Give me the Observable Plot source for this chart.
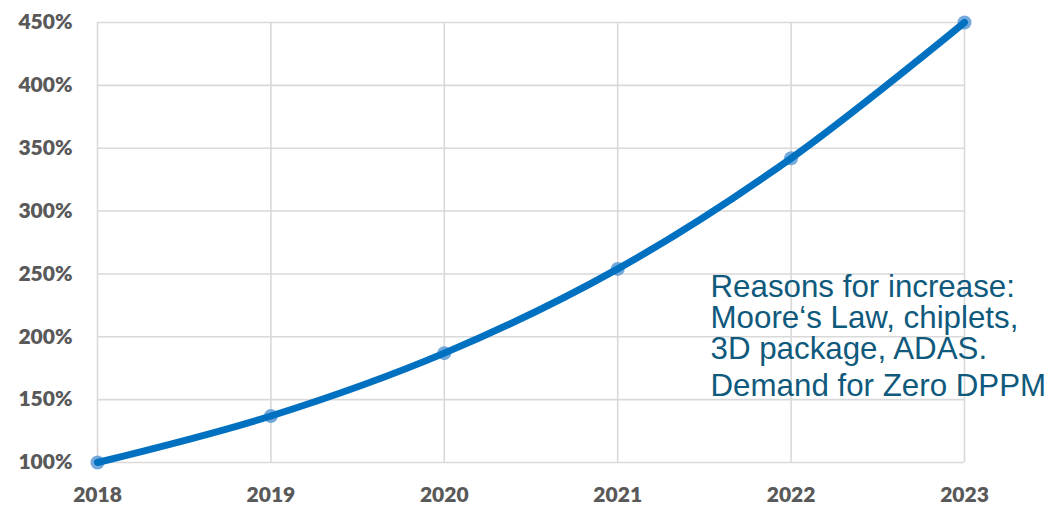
<!DOCTYPE html>
<html>
<head>
<meta charset="utf-8">
<script src="https://cdn.jsdelivr.net/npm/d3@7"></script>
<script src="https://cdn.jsdelivr.net/npm/@observablehq/plot@0.6"></script>
<style>
  html, body { margin: 0; padding: 0; background: #ffffff; }
  #chart svg { display: block; }
</style>
</head>
<body>
<div id="chart"></div>
<script>
const years = [2018, 2019, 2020, 2021, 2022, 2023];
const values = [100, 137, 187, 254, 342, 450];
const yTicks = [100, 150, 200, 250, 300, 350, 400, 450];
const noteLines = ["Reasons for increase:", "Moore‘s Law, chiplets,", "3D package, ADAS."];
const noteLast = ["Demand for Zero DPPM"];

const data = years.map((year, i) => ({year, value: values[i]}));

const chart = Plot.plot({
  width: 1053,
  height: 505,
  marginLeft: 97,
  marginRight: 89,
  marginTop: 22,
  marginBottom: 43,
  style: {background: "#ffffff"},
  x: {domain: [2018, 2023], ticks: years, tickFormat: d => String(d)},
  y: {domain: [100, 450], ticks: yTicks},
  marks: [
    Plot.gridY(yTicks, {stroke: "#d9d9d9", strokeOpacity: 1, strokeWidth: 1.6}),
    Plot.gridX(years, {stroke: "#d9d9d9", strokeOpacity: 1, strokeWidth: 1.6}),
    Plot.axisY(yTicks, {
      tickSize: 0, tickPadding: 25, tickFormat: d => d + "%",
      fontSize: 21, fontWeight: 800, fontFamily: "Lato", fill: "#595959", label: null
    }),
    Plot.axisX(years, {
      tickSize: 0, tickPadding: 25, tickFormat: d => String(d),
      fontSize: 21, fontWeight: 800, fontFamily: "Lato", fill: "#595959", label: null
    }),
    Plot.dot(data, {x: "year", y: "value", r: 7, fill: "#5b9bd5", fillOpacity: 0.85, stroke: "none"}),
    Plot.line(data, {x: "year", y: "value", stroke: "#0070c0", strokeWidth: 7, curve: "catmull-rom", strokeLinecap: "round", strokeLinejoin: "round"}),
    Plot.text([noteLines.join("\n")], {
      frameAnchor: "top-left", dx: 613, dy: 253, textAnchor: "start", lineAnchor: "top",
      lineHeight: 0.98, fontSize: 31.3, fontFamily: "Liberation Sans", fill: "#0f5a7c"
    }),
    Plot.text(noteLast, {
      frameAnchor: "top-left", dx: 613, dy: 351, textAnchor: "start", lineAnchor: "top",
      fontSize: 31.3, fontFamily: "Liberation Sans", fill: "#0f5a7c"
    })
  ]
});
document.getElementById("chart").appendChild(chart);
</script>
</body>
</html>
